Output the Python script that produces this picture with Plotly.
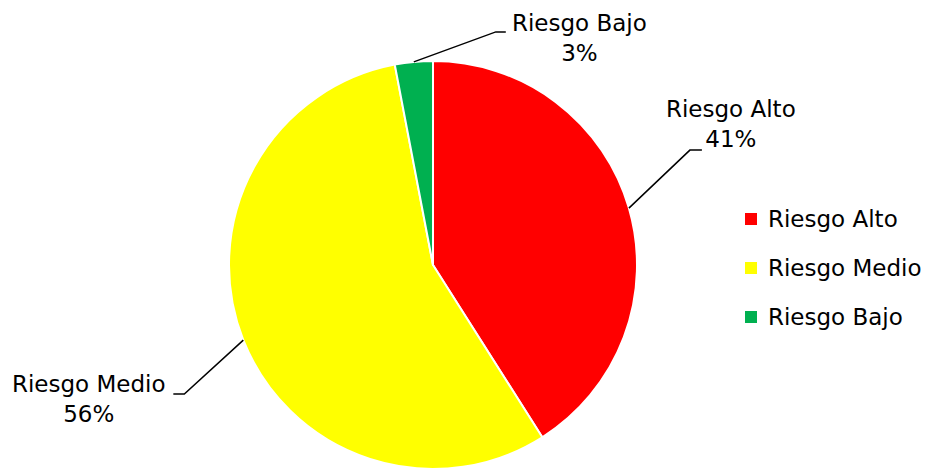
import math
import plotly.graph_objects as go

categories = ["Riesgo Alto", "Riesgo Medio", "Riesgo Bajo"]
values = [41, 56, 3]
colors = ["#FF0000", "#FFFF00", "#00B050"]

W, H = 927, 469
CX, CY, R = 433, 265, 204
FONT = "DejaVu Sans"
FS = 23

def px(x):
    return x / W

def py(y):
    return 1 - y / H

fig = go.Figure()
fig.add_trace(go.Pie(
    labels=categories, values=values, sort=False, direction="clockwise", rotation=0,
    marker=dict(colors=colors, line=dict(color="white", width=2)),
    textinfo="none", hoverinfo="label+percent", showlegend=False,
    domain=dict(x=[px(CX - R), px(CX + R)], y=[py(CY + R), py(CY - R)]),
))

# leader lines + labels, positioned from slice mid-angles
elbow = [(61, -58), (-59, 54), (82, -30)]     # edge -> elbow offset
tail = [12, -11, 10]                           # horizontal segment
label_off = [(29, -26), (-84, 5), (74, 6)]     # from line end to label center
total = sum(values)
cum = 0
shapes, annotations = [], []
for i, v in enumerate(values):
    mid = (cum + v / 2) / total * 2 * math.pi
    cum += v
    ex, ey = CX + R * math.sin(mid), CY - R * math.cos(mid)
    bx, by = ex + elbow[i][0], ey + elbow[i][1]
    tx, ty = bx + tail[i], by
    shapes.append(dict(type="path", xref="paper", yref="paper",
                       path=f"M {px(ex)} {py(ey)} L {px(bx)} {py(by)} L {px(tx)} {py(ty)}",
                       line=dict(color="black", width=1.5)))
    pct = round(v / total * 100)
    annotations.append(dict(x=px(tx + label_off[i][0]), y=py(ty + label_off[i][1]),
                            xref="paper", yref="paper", showarrow=False,
                            text=f"{categories[i]}<br>{pct}%", align="center",
                            xanchor="center", yanchor="middle",
                            font=dict(family=FONT, size=FS, color="black")))

# legend
LX, LY0, LDY = 751, 219, 49
for i, c in enumerate(categories):
    y = LY0 + i * LDY
    shapes.append(dict(type="rect", xref="paper", yref="paper",
                       x0=px(LX - 6), x1=px(LX + 6), y0=py(y - 6), y1=py(y + 6),
                       fillcolor=colors[i], line=dict(width=0)))
    annotations.append(dict(x=px(LX + 15), y=py(y), xref="paper", yref="paper",
                            showarrow=False, text=c, xanchor="left", yanchor="middle",
                            font=dict(family=FONT, size=FS, color="black")))

fig.update_layout(width=W, height=H, margin=dict(l=0, r=0, t=0, b=0),
                  paper_bgcolor="white", plot_bgcolor="white",
                  shapes=shapes, annotations=annotations, showlegend=False)
fig.write_html("out.html")
